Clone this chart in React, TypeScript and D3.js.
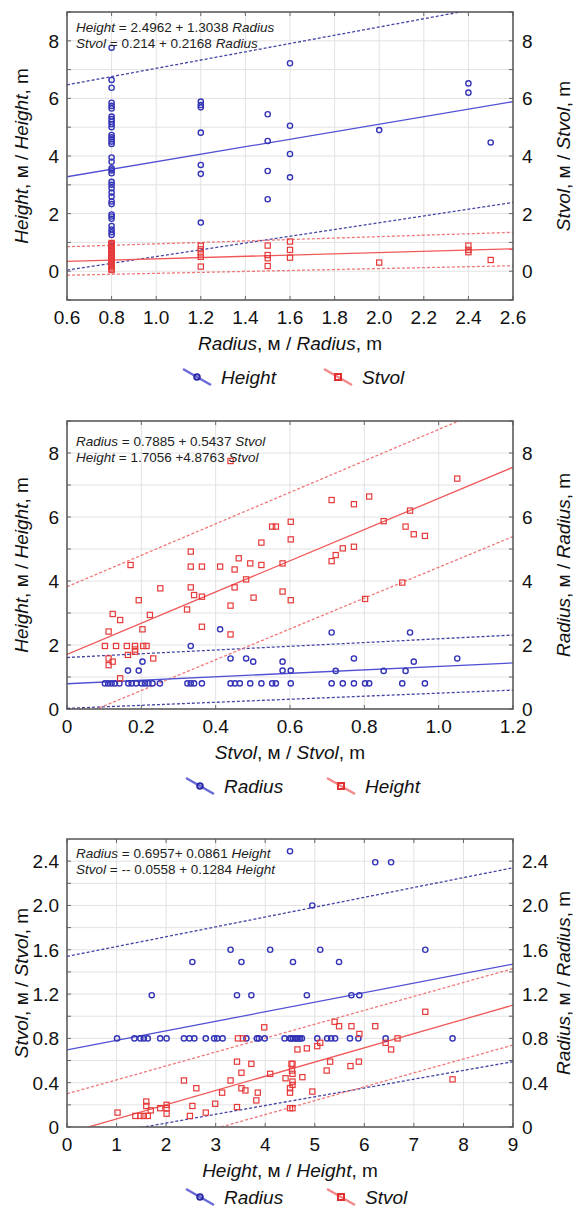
import * as React from "react";
import * as d3 from "d3";

// ---- panel 1: Height & Stvol vs Radius
const p1Height: [number, number][] = [
  [0.8, 7.76], [0.8, 6.64], [0.8, 6.37], [0.8, 5.85], [0.8, 5.74], [0.8, 5.65], [0.8, 5.37], [0.8, 5.28],
  [0.8, 5.19], [0.8, 5.1], [0.8, 5.0], [0.8, 4.73], [0.8, 4.65], [0.8, 4.58], [0.8, 4.5], [0.8, 4.42],
  [0.8, 3.95], [0.8, 3.8], [0.8, 3.57], [0.8, 3.5], [0.8, 3.4], [0.8, 3.1], [0.8, 3.0], [0.8, 2.88],
  [0.8, 2.73], [0.8, 2.59], [0.8, 2.42], [0.8, 2.33], [0.8, 1.97], [0.8, 1.9], [0.8, 1.82], [0.8, 1.57],
  [0.8, 1.45], [0.8, 1.35], [0.8, 1.26], [0.8, 0.97], [0.8, 0.87],
  [1.2, 5.89], [1.2, 5.77], [1.2, 5.69], [1.2, 4.81], [1.2, 3.69], [1.2, 3.38], [1.2, 1.69],
  [1.5, 5.45], [1.5, 4.52], [1.5, 3.48], [1.5, 2.5],
  [1.6, 7.22], [1.6, 5.05], [1.6, 4.07], [1.6, 3.26],
  [2.0, 4.9], [2.4, 6.52], [2.4, 6.2], [2.5, 4.47],
];
const p1Stvol: [number, number][] = [
  [0.8, 0.04], [0.8, 0.09], [0.8, 0.14], [0.8, 0.19], [0.8, 0.24], [0.8, 0.29], [0.8, 0.34], [0.8, 0.39],
  [0.8, 0.44], [0.8, 0.49], [0.8, 0.54], [0.8, 0.59], [0.8, 0.64], [0.8, 0.69], [0.8, 0.74], [0.8, 0.79],
  [0.8, 0.84], [0.8, 0.89], [0.8, 0.94], [0.8, 0.98],
  [1.2, 0.88], [1.2, 0.76], [1.2, 0.62], [1.2, 0.5], [1.2, 0.16],
  [1.5, 0.89], [1.5, 0.56], [1.5, 0.45], [1.5, 0.18],
  [1.6, 1.03], [1.6, 0.74], [1.6, 0.47],
  [2.0, 0.3], [2.4, 0.89], [2.4, 0.74], [2.4, 0.66], [2.5, 0.39],
];
const p1XTicks = [0.6, 0.8, 1.0, 1.2, 1.4, 1.6, 1.8, 2.0, 2.2, 2.4, 2.6];
const p1YTicks = [0, 2, 4, 6, 8];
// fit = [intercept, slope]; bands = values at x min / x max
const p1HeightFit = [2.4962, 1.3038];
const p1StvolFit = [0.214, 0.2168];
const p1HeightBand = [[6.47, 9.34], [0.04, 2.39]];
const p1StvolBand = [[0.85, 1.35], [-0.14, 0.19]];

// ---- panel 2: Radius & Height vs Stvol
const p2Radius: [number, number][] = [
  [0.102, 0.8], [0.111, 0.8], [0.12, 0.8], [0.129, 0.8], [0.141, 0.8], [0.165, 0.8], [0.174, 0.8], [0.186, 0.8],
  [0.201, 0.8], [0.21, 0.8], [0.219, 0.8], [0.23, 0.8], [0.25, 0.8], [0.324, 0.8], [0.333, 0.8], [0.342, 0.8],
  [0.363, 0.8], [0.44, 0.8], [0.452, 0.8], [0.465, 0.8], [0.493, 0.8], [0.523, 0.8], [0.552, 0.8], [0.562, 0.8],
  [0.602, 0.8], [0.712, 0.8], [0.742, 0.8], [0.772, 0.8], [0.802, 0.8], [0.813, 0.8], [0.902, 0.8], [0.963, 0.8],
  [0.412, 2.49], [0.333, 1.97], [0.44, 1.58], [0.482, 1.58], [0.501, 1.48], [0.58, 1.48], [0.203, 1.48],
  [0.164, 1.2], [0.193, 1.2], [0.58, 1.2], [0.602, 1.2], [0.723, 1.19], [0.852, 1.19], [0.911, 1.19],
  [0.712, 2.39], [0.923, 2.39], [0.772, 1.58], [0.933, 1.48], [1.05, 1.58],
];
const p2Height: [number, number][] = [
  [0.44, 7.75], [0.171, 4.5], [0.333, 4.92], [0.333, 4.45], [0.363, 4.45], [0.412, 4.45], [0.462, 4.71],
  [0.451, 4.36], [0.493, 4.55], [0.523, 4.5], [0.523, 5.2], [0.552, 5.7], [0.562, 5.7], [0.602, 5.85],
  [0.602, 5.3], [0.58, 4.55], [0.482, 4.05], [0.451, 3.8], [0.251, 3.77], [0.333, 3.8], [0.342, 3.56],
  [0.363, 3.51], [0.502, 3.48], [0.58, 3.67], [0.602, 3.4], [0.193, 3.4], [0.323, 3.11], [0.44, 3.23],
  [0.223, 2.94], [0.123, 2.97], [0.143, 2.78], [0.203, 2.49], [0.112, 2.42], [0.363, 2.57], [0.44, 2.33],
  [0.102, 1.97], [0.132, 1.97], [0.161, 1.97], [0.183, 1.97], [0.205, 1.97], [0.214, 1.97], [0.183, 1.86],
  [0.164, 1.69], [0.232, 1.58], [0.112, 1.58], [0.123, 1.48], [0.112, 1.37], [0.143, 0.96], [0.183, 1.79],
  [1.05, 7.2], [0.712, 6.53], [0.772, 6.4], [0.813, 6.64], [0.923, 6.2], [0.852, 5.87], [0.911, 5.7],
  [0.933, 5.46], [0.963, 5.41], [0.712, 4.62], [0.723, 4.81], [0.742, 5.02], [0.772, 5.07], [0.902, 3.95],
  [0.802, 3.44],
];
const p2XTicks = [0, 0.2, 0.4, 0.6, 0.8, 1.0, 1.2];
const p2YTicks = [0, 2, 4, 6, 8];
const p2RadiusFit = [0.7885, 0.5437];
const p2HeightFit = [1.7056, 4.8763];
const p2RadiusBand = [[1.61, 2.31], [0.02, 0.59]];
const p2HeightBand = [[3.82, 9.72], [-0.385, 5.39]];

// ---- panel 3: Radius & Stvol vs Height
const p3Radius: [number, number][] = [
  [4.5, 2.49], [3.3, 1.6], [4.1, 1.6], [2.53, 1.49], [3.52, 1.49], [4.56, 1.49], [1.71, 1.19], [3.43, 1.19],
  [3.72, 1.19], [6.22, 2.39], [6.54, 2.39], [4.95, 2.0], [5.11, 1.6], [7.23, 1.6], [5.49, 1.49], [4.84, 1.19],
  [5.74, 1.19], [5.9, 1.19],
  [1.01, 0.8], [1.36, 0.8], [1.48, 0.8], [1.55, 0.8], [1.63, 0.8], [1.88, 0.8], [2.01, 0.8], [2.36, 0.8],
  [2.47, 0.8], [2.57, 0.8], [2.8, 0.8], [2.97, 0.8], [3.03, 0.8], [3.14, 0.8], [3.62, 0.8], [3.83, 0.8],
  [3.87, 0.8], [3.99, 0.8], [4.39, 0.8], [4.5, 0.8], [4.56, 0.8], [4.63, 0.8], [4.7, 0.8], [4.52, 0.8],
  [4.61, 0.8], [4.67, 0.8], [4.74, 0.8], [5.05, 0.8], [5.25, 0.8], [5.33, 0.8], [5.41, 0.8], [5.71, 0.8],
  [5.88, 0.8], [6.43, 0.8], [7.78, 0.8],
];
const p3Stvol: [number, number][] = [
  [3.98, 0.9], [3.43, 0.59], [3.72, 0.57], [3.52, 0.49], [4.1, 0.48], [2.36, 0.42], [3.3, 0.42], [4.41, 0.44],
  [4.53, 0.57], [4.54, 0.51], [2.61, 0.35], [3.52, 0.35], [3.6, 0.33], [3.13, 0.31], [3.85, 0.31], [4.5, 0.35],
  [4.5, 0.31], [1.6, 0.23], [1.6, 0.19], [1.88, 0.17], [2.01, 0.2], [2.01, 0.17], [2.01, 0.12], [1.69, 0.15],
  [2.53, 0.19], [2.99, 0.21], [1.02, 0.13], [1.38, 0.1], [1.48, 0.1], [1.55, 0.1], [1.63, 0.1], [2.8, 0.13],
  [2.48, 0.1], [3.43, 0.18], [3.82, 0.24], [4.5, 0.17], [3.45, 0.8], [3.55, 0.8],
  [5.4, 0.95], [5.49, 0.91], [5.74, 0.91], [6.22, 0.91], [7.23, 1.04], [5.9, 0.84], [5.11, 0.76], [5.05, 0.73],
  [4.65, 0.7], [4.84, 0.71], [6.43, 0.76], [6.67, 0.8], [6.54, 0.7], [5.31, 0.59], [5.24, 0.51], [5.72, 0.55],
  [5.89, 0.59], [4.55, 0.57], [4.55, 0.48], [4.75, 0.45], [4.55, 0.41], [4.55, 0.38], [4.55, 0.17], [4.95, 0.32],
  [7.78, 0.43],
];
const p3XTicks = [0, 1, 2, 3, 4, 5, 6, 7, 8, 9];
const p3YTicks = [0, 0.4, 0.8, 1.2, 1.6, 2.0, 2.4];
const p3RadiusFit = [0.6957, 0.0861];
const p3StvolFit = [-0.0558, 0.1284];
const p3RadiusBand = [[1.54, 2.34], [-0.123, 0.59]];
const p3StvolBand = [[0.3, 1.43], [-0.39, 0.74]];

const FONT = "'Liberation Sans', Arial, sans-serif";
const BLUE = "#3434b8";
const BLUE_LINE = "#5050d4";
const BLUE_DASH = "#4444a4";
const RED = "#e63a3a";
const RED_LINE = "#f05858";
const RED_DASH = "#f07878";

const LEFT = 67;
const W = 446;
const H = 288;

type Ser = { name: string; pts: [number, number][]; fit: number[]; band: number[][] };

function Title({ v, x, y, rot }: any) {
  return (
    <text x={x} y={y} textAnchor="middle" fontSize={19} fontFamily={FONT} fill="#111"
      transform={rot ? `rotate(-90, ${x}, ${y})` : undefined}>
      <tspan fontStyle="italic">{v}</tspan>, м / <tspan fontStyle="italic">{v}</tspan>, m
    </text>
  );
}

function Panel(props: any) {
  const { id, top, xDomain, yDomain, xTicks, yTicks, xGrid, yGrid, xFmt, yFmt,
    xVar, leftVar, rightVar, blue, red, eq, eqY, legX, legDy } = props;
  const b: Ser = blue;
  const r: Ser = red;
  const x = d3.scaleLinear().domain(xDomain).range([LEFT, LEFT + W]);
  const y = d3.scaleLinear().domain(yDomain).range([top + H, top]);
  const line = d3.line<[number, number]>().x((d) => x(d[0])).y((d) => y(d[1]));
  const fitLine = (f: number[]) =>
    line(xDomain.map((v: number) => [v, f[0] + f[1] * v] as [number, number])) || "";
  const bandLine = (vals: number[]) =>
    line(xDomain.map((v: number, i: number) => [v, vals[i]] as [number, number])) || "";
  const bottom = top + H;
  const clip = `clip${id}`;
  const legY = bottom + legDy;
  return (
    <g>
      <defs>
        <clipPath id={clip}>
          <rect x={LEFT} y={top} width={W} height={H} />
        </clipPath>
      </defs>
      <rect x={LEFT} y={top} width={W} height={H} fill="#fff" />
      {xGrid.map((v: number) => (
        <g key={"xg" + v}>
          <line x1={x(v)} x2={x(v)} y1={top} y2={bottom} stroke="#e2e2e2" />
          <line x1={x(v)} x2={x(v)} y1={bottom} y2={bottom - 4} stroke="#666" />
          <line x1={x(v)} x2={x(v)} y1={top} y2={top + 4} stroke="#666" />
        </g>
      ))}
      {yGrid.map((v: number) => (
        <g key={"yg" + v}>
          <line x1={LEFT} x2={LEFT + W} y1={y(v)} y2={y(v)} stroke="#e2e2e2" />
          <line x1={LEFT} x2={LEFT + 4} y1={y(v)} y2={y(v)} stroke="#666" />
          <line x1={LEFT + W - 4} x2={LEFT + W} y1={y(v)} y2={y(v)} stroke="#666" />
        </g>
      ))}
      <g clipPath={`url(#${clip})`} fill="none">
        <path d={bandLine(b.band[0])} stroke={BLUE_DASH} strokeWidth={1.3} strokeDasharray="3,2" />
        <path d={bandLine(b.band[1])} stroke={BLUE_DASH} strokeWidth={1.3} strokeDasharray="3,2" />
        <path d={bandLine(r.band[0])} stroke={RED_DASH} strokeWidth={1.3} strokeDasharray="3,2" />
        <path d={bandLine(r.band[1])} stroke={RED_DASH} strokeWidth={1.3} strokeDasharray="3,2" />
        <path d={fitLine(b.fit)} stroke={BLUE_LINE} strokeWidth={1.3} />
        <path d={fitLine(r.fit)} stroke={RED_LINE} strokeWidth={1.3} />
        {b.pts.map((d, i) => (
          <circle key={"b" + i} cx={x(d[0])} cy={y(d[1])} r={2.6} stroke={BLUE} strokeWidth={1.4} />
        ))}
        {r.pts.map((d, i) => (
          <rect key={"r" + i} x={x(d[0]) - 2.6} y={y(d[1]) - 2.6} width={5.2} height={5.2}
            stroke={RED} strokeWidth={1.2} />
        ))}
      </g>
      <rect x={LEFT} y={top} width={W} height={H} fill="none" stroke="#555" strokeWidth={1.5} />
      <g fontFamily={FONT} fontSize={13.5} fill="#222">
        {eq.map((e: string[], i: number) => (
          <text key={"eq" + i} x={LEFT + 9} y={top + eqY + i * 15.5}>
            <tspan fontStyle="italic">{e[0]}</tspan>
            {e[1]}
            <tspan fontStyle="italic">{e[2]}</tspan>
          </text>
        ))}
      </g>
      <g fontFamily={FONT} fontSize={19} fill="#111">
        {xTicks.map((v: number) => (
          <text key={"xt" + v} x={x(v)} y={bottom + 24} textAnchor="middle">{xFmt(v)}</text>
        ))}
        {yTicks.map((v: number) => (
          <text key={"yl" + v} x={LEFT - 8} y={y(v) + 7} textAnchor="end">{yFmt(v)}</text>
        ))}
        {yTicks.map((v: number) => (
          <text key={"yr" + v} x={LEFT + W + 9} y={y(v) + 7}>{yFmt(v)}</text>
        ))}
      </g>
      <Title v={xVar} x={LEFT + W / 2} y={bottom + 50} />
      <Title v={leftVar} x={28} y={top + H / 2} rot />
      <Title v={rightVar} x={570} y={top + H / 2} rot />
      <g>
        <line x1={legX[0] - 14} y1={legY - 8} x2={legX[0] + 14} y2={legY + 8} stroke="#6a6ad8" strokeWidth={2.4} />
        <circle cx={legX[0]} cy={legY} r={2.8} fill="none" stroke="#2a2aa8" strokeWidth={2} />
        <text x={legX[0] + 24} y={legY + 7} fontFamily={FONT} fontSize={19} fontStyle="italic" fill="#111">{b.name}</text>
        <line x1={legX[1] - 14} y1={legY - 8} x2={legX[1] + 14} y2={legY + 8} stroke="#f28a8a" strokeWidth={2.4} />
        <rect x={legX[1] - 3} y={legY - 3} width={6} height={6} fill="none" stroke="#e23030" strokeWidth={2} />
        <text x={legX[1] + 24} y={legY + 7} fontFamily={FONT} fontSize={19} fontStyle="italic" fill="#111">{r.name}</text>
      </g>
    </g>
  );
}

export default function App() {
  const f1 = d3.format(".1f");
  const fInt = (v: number) => String(v);
  const f3y = (v: number) => (v === 0 ? "0" : d3.format(".1f")(v));
  return (
    <svg width={577} height={1212} style={{ position: "absolute", left: 0, top: 0, background: "#fff" }}>
      <rect width={577} height={1212} fill="#fff" />
      <Panel id={1} top={12} xDomain={[0.6, 2.6]} yDomain={[-1, 9]}
        xTicks={p1XTicks} yTicks={p1YTicks} xGrid={p1XTicks} yGrid={d3.range(-1, 10)}
        xFmt={f1} yFmt={fInt} xVar="Radius" leftVar="Height" rightVar="Stvol"
        blue={{ name: "Height", pts: p1Height, fit: p1HeightFit, band: p1HeightBand }}
        red={{ name: "Stvol", pts: p1Stvol, fit: p1StvolFit, band: p1StvolBand }}
        eq={[["Height", " = 2.4962 + 1.3038 ", "Radius"], ["Stvol", " = 0.214 + 0.2168 ", "Radius"]]}
        eqY={20} legX={[197, 338]} legDy={77} />
      <Panel id={2} top={421} xDomain={[0, 1.2]} yDomain={[0, 9]}
        xTicks={p2XTicks} yTicks={p2YTicks} xGrid={p2XTicks} yGrid={d3.range(0, 10)}
        xFmt={(v: number) => (v === 0 ? "0" : f1(v))} yFmt={fInt} xVar="Stvol" leftVar="Height" rightVar="Radius"
        blue={{ name: "Radius", pts: p2Radius, fit: p2RadiusFit, band: p2RadiusBand }}
        red={{ name: "Height", pts: p2Height, fit: p2HeightFit, band: p2HeightBand }}
        eq={[["Radius", " = 0.7885 + 0.5437 ", "Stvol"], ["Height", " = 1.7056 +4.8763 ", "Stvol"]]}
        eqY={25} legX={[200, 341]} legDy={77} />
      <Panel id={3} top={839} xDomain={[0, 9]} yDomain={[0, 2.6]}
        xTicks={p3XTicks} yTicks={p3YTicks} xGrid={p3XTicks} yGrid={d3.range(0, 13).map((i) => i * 0.2)}
        xFmt={fInt} yFmt={f3y} xVar="Height" leftVar="Stvol" rightVar="Radius"
        blue={{ name: "Radius", pts: p3Radius, fit: p3RadiusFit, band: p3RadiusBand }}
        red={{ name: "Stvol", pts: p3Stvol, fit: p3StvolFit, band: p3StvolBand }}
        eq={[["Radius", " = 0.6957+ 0.0861 ", "Height"], ["Stvol", " = -- 0.0558 + 0.1284 ", "Height"]]}
        eqY={19} legX={[200, 341]} legDy={70} />
    </svg>
  );
}
